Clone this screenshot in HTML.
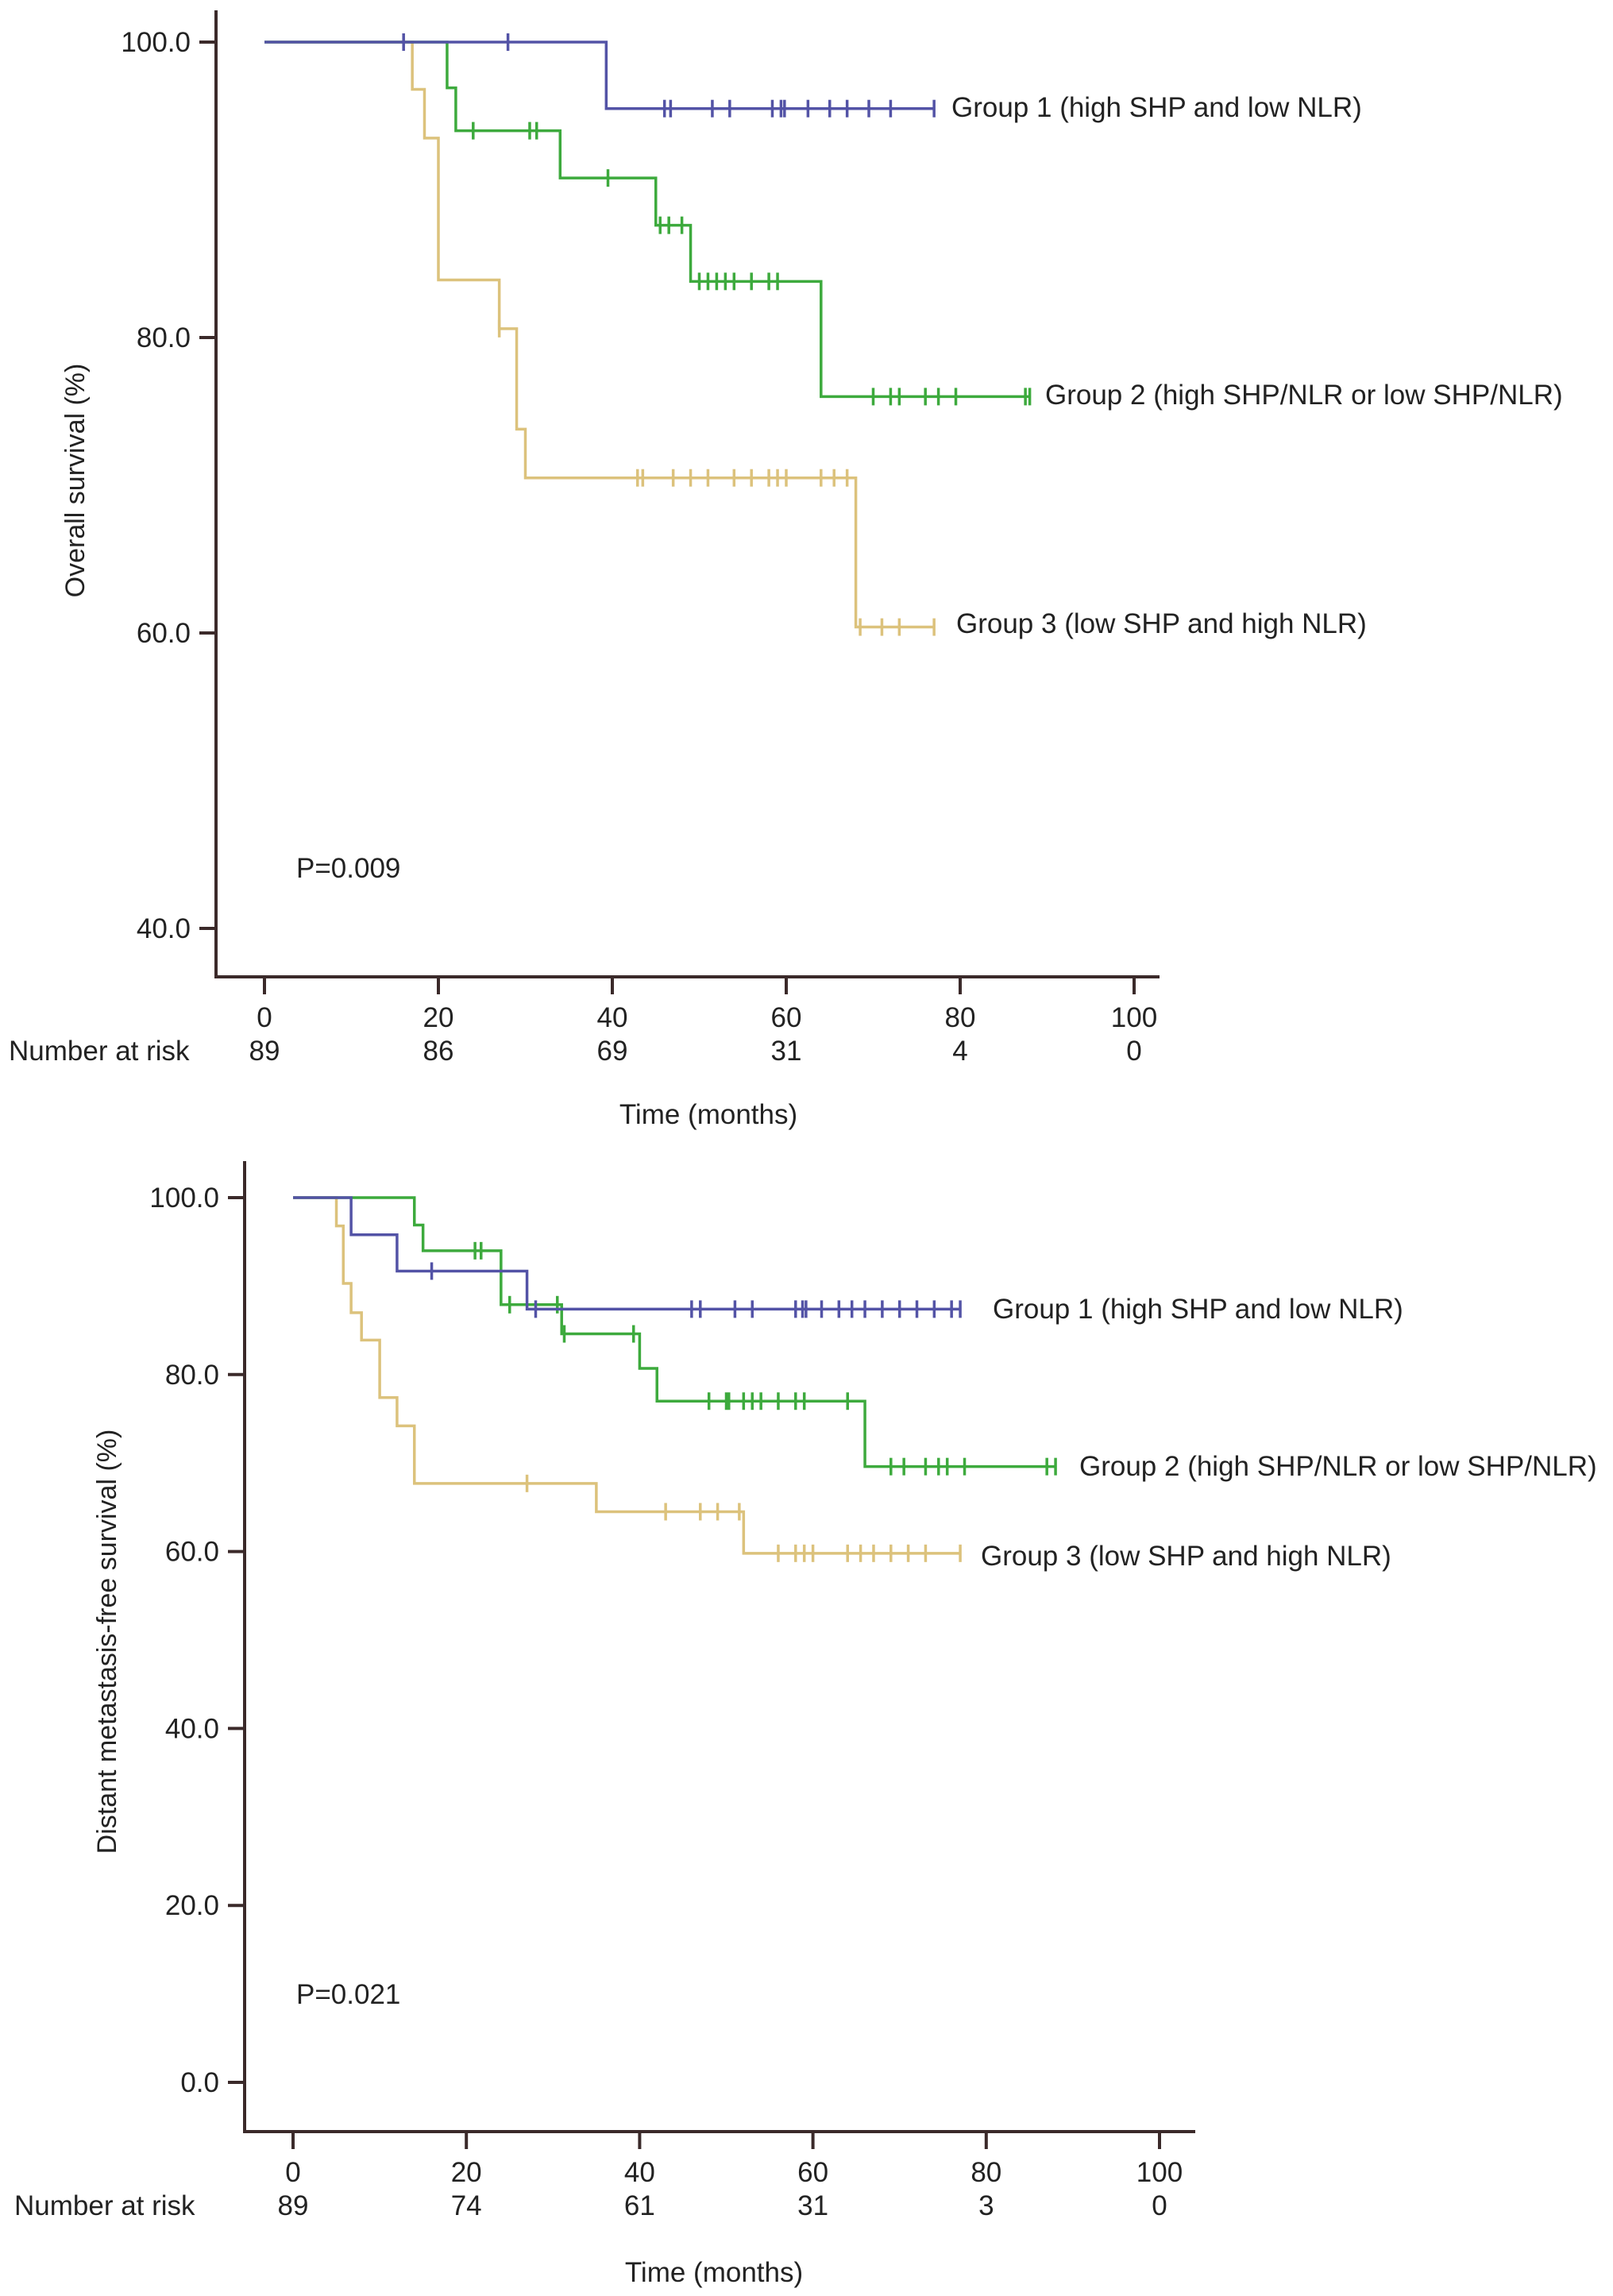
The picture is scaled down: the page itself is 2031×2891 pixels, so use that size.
<!DOCTYPE html>
<html><head><meta charset="utf-8"><style>
html,body{margin:0;padding:0;background:#fff;}
svg{display:block;font-family:"Liberation Sans",Arial,sans-serif;}
</style></head><body>
<svg id="fig" width="2031" height="2891" viewBox="0 0 2031 2891" xmlns="http://www.w3.org/2000/svg"></svg>
<script>
// ===== Chart A: Overall survival =====
const osXTicks = [0,20,40,60,80,100];
const osYTicks = [40,60,80,100];
const osAtRisk = ["89","86","69","31","4","0"];
const osG1Drops = [39.3];
const osG1Levels = [95.5];
const osG1End = 77;
const osG1Cens = [16,28,46,46.7,51.5,53.5,58.4,59.4,59.8,62.5,65,67,69.5,72,77];
const osG2Drops = [21,22,34,45,49,64];
const osG2Levels = [96.9,94,90.8,87.6,83.8,76];
const osG2End = 88;
const osG2Cens = [24,30.5,31.3,39.5,45.5,46.5,48,50,51,52,53,54,56,58,59,70,72,73,76,77.5,79.5,87.5,88];
const osG3Drops = [17,18.4,20,27,29,30,68];
const osG3Levels = [96.8,93.5,83.9,80.6,73.8,70.5,60.4];
const osG3End = 77;
const osG3Cens = [27,42.9,43.5,47,49,51,54,56,58,59,60,64,65.5,67,68.5,71,73,77];

// ===== Chart B: Distant metastasis-free survival =====
const dmXTicks = [0,20,40,60,80,100];
const dmYTicks = [0,20,40,60,80,100];
const dmAtRisk = ["89","74","61","31","3","0"];
const dmG1Drops = [6.7,12,27];
const dmG1Levels = [95.8,91.7,87.4];
const dmG1End = 77;
const dmG1Cens = [16,28,46,47,51,53,58,58.8,59.2,61,63,64.5,66,68,70,72,74,76,77];
const dmG2Drops = [14,15,24,31,40,42,66];
const dmG2Levels = [96.9,94,87.9,84.6,80.7,77,69.6];
const dmG2End = 88;
const dmG2Cens = [21,21.7,25,30.5,31.3,39.3,48,50,50.3,52,53,54,56,58,59,64,69,70.5,73,74.5,75.5,77.5,87,88];
const dmG3Drops = [5,5.8,6.7,7.9,10,12,14,35,52];
const dmG3Levels = [96.8,90.3,87,83.9,77.4,74.2,67.7,64.5,59.8];
const dmG3End = 77;
const dmG3Cens = [27,43,47,49,51.5,56,58,59,60,64,65.5,67,69,71,73,77];

const NS = "http://www.w3.org/2000/svg";
const svg = document.getElementById('fig');
const COLORS = {g1:"#5353a6", g2:"#3daa3d", g3:"#dcc27c", axis:"#3b2a2a"};
const FS = 35;

function mk(tag, attrs, parent){
  const e = document.createElementNS(NS, tag);
  for (const k in attrs) e.setAttribute(k, attrs[k]);
  (parent||svg).appendChild(e);
  return e;
}

function drawChart(c){
  const g = mk('g', {});
  
  
  const X = t => c.x0 + (t - 0) * (c.x100 - c.x0) / 100;
  const Y = v => c.yTop + (c.yMax - v) * (c.yBot - c.yTop) / (c.yMax - c.yMin);

  const ya = mk('line', {x1:c.axX, y1:c.axTop, x2:c.axX, y2:c.axY+2, stroke:COLORS.axis, 'stroke-width':4}, g);
  
  
  const xa = mk('line', {x1:c.axX-2, y1:c.axY, x2:c.axRight, y2:c.axY, stroke:COLORS.axis, 'stroke-width':4}, g);
  
  

  c.yTicks.forEach(v => {
    const tk = mk('line', {x1:c.axX-21, y1:Y(v), x2:c.axX, y2:Y(v), stroke:COLORS.axis, 'stroke-width':4}, g);
    
    
    const tl = mk('text', {x:c.axX-32, y:Y(v)+12, 'text-anchor':'end', 'font-size':FS, fill:'#222'}, g);
    
    
    tl.textContent = v.toFixed(1);
  });
  c.xTicks.forEach((t, i) => {
    const tk = mk('line', {x1:X(t), y1:c.axY, x2:X(t), y2:c.axY+22, stroke:COLORS.axis, 'stroke-width':4}, g);
    
    
    const tl = mk('text', {x:X(t), y:c.axY+63, 'text-anchor':'middle', 'font-size':FS, fill:'#222'}, g);
    
    
    tl.textContent = String(t);
    const ar = mk('text', {x:X(t), y:c.axY+105, 'text-anchor':'middle', 'font-size':FS, fill:'#222'}, g);
    
    
    ar.textContent = c.atRisk[i];
  });
  const nar = mk('text', {x:c.narX, y:c.axY+105, 'font-size':FS, fill:'#222'}, g);
  
  
  nar.textContent = 'Number at risk';
  const xt = mk('text', {x:c.xTitleX, y:c.xTitleY, 'text-anchor':'middle', 'font-size':FS, fill:'#222'}, g);
  
  
  xt.textContent = 'Time (months)';
  const yt = mk('text', {x:0, y:0, 'text-anchor':'middle', 'font-size':34, fill:'#222', transform:`translate(${c.yTitleX},${c.yTitleY}) rotate(-90)`}, g);
  
  
  yt.textContent = c.yTitle;
  const pv = mk('text', {x:c.pX, y:c.pY, 'font-size':FS, fill:'#222'}, g);
  
  
  pv.textContent = c.pText;

  c.series.forEach(s => {
    const sg = mk('g', {}, g);
    
    
    let d = `M${X(0)},${Y(100)}`;
    s.drops.forEach((t, i) => {
      d += ` H${X(t)} V${Y(s.levels[i])}`;
    });
    d += ` H${X(s.end)}`;
    const p = mk('path', {d:d, fill:'none', stroke:s.color, 'stroke-width':3.5}, sg);
    
    
    s.cens.forEach(t => {
      let v = 100;
      s.drops.forEach((dt, i) => { if (t >= dt) v = s.levels[i]; });
      const m = mk('line', {x1:X(t), y1:Y(v)-11, x2:X(t), y2:Y(v)+11, stroke:s.color, 'stroke-width':3.5}, sg);
      
      
    });
    const lb = mk('text', {x:s.lx, y:s.ly, 'font-size':FS, fill:'#222'}, sg);
    
    
    lb.textContent = s.label;
  });
}

drawChart({
  name:'overall-survival-chart',
  x0:333, x100:1428, yTop:53, yBot:1169, yMax:100, yMin:40,
  axX:272, axTop:13, axY:1230, axRight:1460,
  xTicks:osXTicks, yTicks:osYTicks, atRisk:osAtRisk, narX:11,
  xTitleX:892, xTitleY:1415, yTitleX:106, yTitleY:605, yTitle:'Overall survival (%)',
  pX:373, pY:1105, pText:'P=0.009',
  series:[
    {name:'group-3', color:COLORS.g3, drops:osG3Drops, levels:osG3Levels, end:osG3End, cens:osG3Cens, label:'Group 3 (low SHP and high NLR)', lx:1204, ly:797},
    {name:'group-2', color:COLORS.g2, drops:osG2Drops, levels:osG2Levels, end:osG2End, cens:osG2Cens, label:'Group 2 (high SHP/NLR or low SHP/NLR)', lx:1316, ly:509},
    {name:'group-1', color:COLORS.g1, drops:osG1Drops, levels:osG1Levels, end:osG1End, cens:osG1Cens, label:'Group 1 (high SHP and low NLR)', lx:1198, ly:147}
  ]
});

drawChart({
  name:'metastasis-free-survival-chart',
  x0:369, x100:1460, yTop:1508, yBot:2622, yMax:100, yMin:0,
  axX:308, axTop:1462, axY:2684, axRight:1505,
  xTicks:dmXTicks, yTicks:dmYTicks, atRisk:dmAtRisk, narX:18,
  xTitleX:899, xTitleY:2873, yTitleX:146, yTitleY:2067, yTitle:'Distant metastasis-free survival (%)',
  pX:373, pY:2523, pText:'P=0.021',
  series:[
    {name:'group-3', color:COLORS.g3, drops:dmG3Drops, levels:dmG3Levels, end:dmG3End, cens:dmG3Cens, label:'Group 3 (low SHP and high NLR)', lx:1235, ly:1971},
    {name:'group-2', color:COLORS.g2, drops:dmG2Drops, levels:dmG2Levels, end:dmG2End, cens:dmG2Cens, label:'Group 2 (high SHP/NLR or low SHP/NLR)', lx:1359, ly:1858},
    {name:'group-1', color:COLORS.g1, drops:dmG1Drops, levels:dmG1Levels, end:dmG1End, cens:dmG1Cens, label:'Group 1 (high SHP and low NLR)', lx:1250, ly:1660}
  ]
});
</script>
</body></html>
